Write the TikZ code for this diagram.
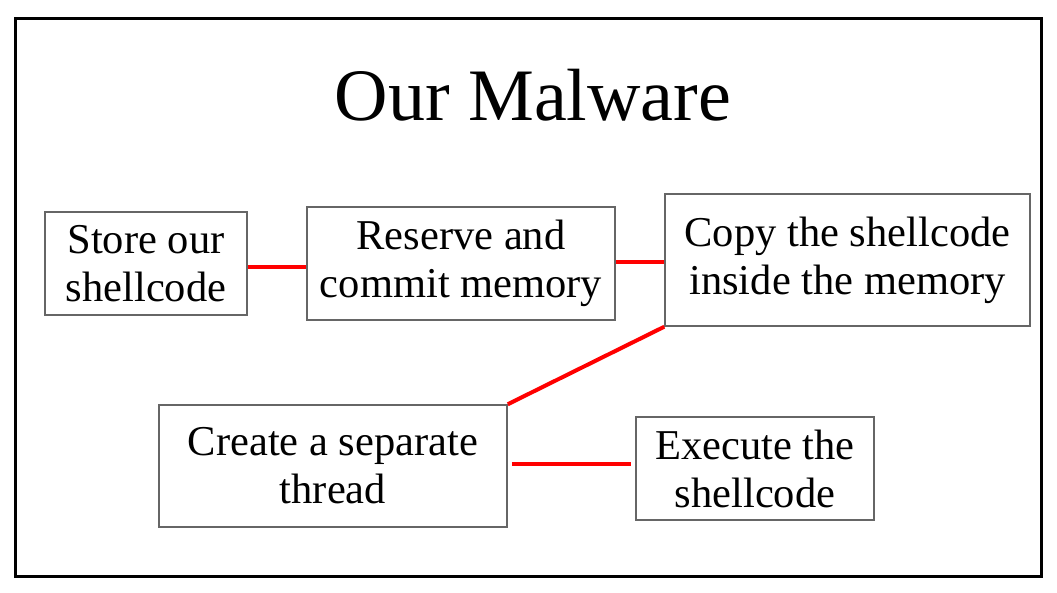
\documentclass[tikz,border=0pt]{standalone}
\usepackage{fontspec}
\setmainfont{Liberation Serif}
\usetikzlibrary{calc}
\tikzset{
  step box/.style ={draw=black!60,line width=1.5pt,align=center,inner sep=0pt,
                    font=\fontsize{42.5}{48}\selectfont},
  link/.style     ={draw=red,line width=4pt},
  frame/.style    ={draw=black,line width=3pt},
}
\begin{document}
\begin{tikzpicture}[x=1pt,y=-1pt]
\useasboundingbox (0,0) rectangle (1057,592);
\draw[frame] (15,18) rectangle (1041,576);

% headline
\node[font=\fontsize{74}{84}\selectfont] (T) at (533,95) {Our Malware};

% ---- top row ----------------------------------------------------------
\node[step box,minimum width=202pt,minimum height=103pt] (S1) at (146,263.5)
  {Store our\\shellcode};
\node[step box,minimum width=308pt,minimum height=113pt] (S2) at (461,263.5)
  {Reserve and\\commit memory};
\node[step box,minimum width=365pt,minimum height=132pt] (S3) at (847.5,260)
  {Copy the shellcode\\inside the memory};

% ---- bottom row -------------------------------------------------------
\node[step box,minimum width=348pt,minimum height=122pt] (S4) at (333,466)
  {Create a separate\\thread};
\node[step box,minimum width=238pt,minimum height=103pt] (S5) at (755,468.5)
  {Execute the\\shellcode};

% ---- links ------------------------------------------------------------
\draw[link] ($(S1.east)+(0,3)$) -- ($(S1.east -| S2.west)+(0,3)$);
\draw[link] ($(S2.east)+(0,-2)$) -- ($(S2.east -| S3.west)+(0,-2)$);
\draw[link] (S3.south west) -- (S4.north east);
\draw[link,shorten <=4pt,shorten >=4pt] ($(S4.east)+(0,-2)$) -- ($(S4.east -| S5.west)+(0,-2)$);
\end{tikzpicture}
\end{document}
